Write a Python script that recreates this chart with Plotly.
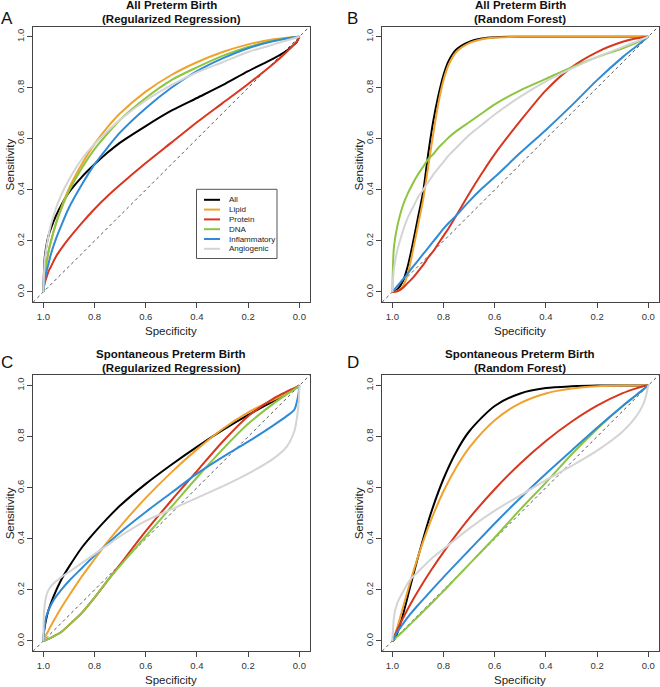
import plotly.graph_objects as go

W, H = 660, 687
FONT = "Liberation Sans, Arial, sans-serif"

SERIES = ["All", "Lipid", "Protein", "DNA", "Inflammatory", "Angiogenic"]
COLORS = ["#000000", "#F0A22E", "#D7361F", "#8CC540", "#2F8BD6", "#D4D4D4"]

TICKS = [0.0, 0.2, 0.4, 0.6, 0.8, 1.0]
TICK_TEXT = ["0.0", "0.2", "0.4", "0.6", "0.8", "1.0"]

# A - all preterm birth, regularized regression
SPEC_A = [1.0, 0.995, 0.99, 0.98, 0.97, 0.95, 0.93, 0.90, 0.85, 0.80, 0.75,
          0.70, 0.60, 0.50, 0.40, 0.30, 0.20, 0.10, 0.05, 0.02, 0.01, 0.0]
A_ALL = [0, 0.13, 0.17, 0.22, 0.25, 0.30, 0.34, 0.39, 0.45, 0.50, 0.545,
         0.585, 0.65, 0.71, 0.76, 0.81, 0.865, 0.915, 0.945, 0.97, 0.98, 1.0]
A_LIPID = [0, 0.06, 0.10, 0.155, 0.20, 0.27, 0.33, 0.405, 0.50, 0.58, 0.645,
           0.70, 0.785, 0.85, 0.90, 0.94, 0.97, 0.99, 0.996, 0.999, 1.0, 1.0]
A_PROTEIN = [0, 0.035, 0.05, 0.08, 0.10, 0.14, 0.17, 0.21, 0.27, 0.325, 0.375,
             0.42, 0.505, 0.585, 0.665, 0.74, 0.815, 0.895, 0.94, 0.97, 0.98, 1.0]
A_DNA = [0, 0.065, 0.10, 0.16, 0.20, 0.27, 0.325, 0.395, 0.485, 0.56, 0.62,
         0.675, 0.76, 0.83, 0.88, 0.925, 0.96, 0.985, 0.994, 0.998, 0.999, 1.0]
A_INFL = [0, 0.04, 0.07, 0.11, 0.15, 0.21, 0.26, 0.33, 0.42, 0.50, 0.565,
          0.625, 0.72, 0.80, 0.865, 0.915, 0.955, 0.983, 0.993, 0.998, 0.999, 1.0]
A_ANGIO = [0, 0.12, 0.16, 0.22, 0.265, 0.33, 0.38, 0.44, 0.52, 0.58, 0.63,
           0.675, 0.75, 0.81, 0.86, 0.90, 0.94, 0.97, 0.985, 0.994, 0.997, 1.0]

# B - all preterm birth, random forest
SPEC_B = [1.0, 0.995, 0.99, 0.98, 0.96, 0.94, 0.92, 0.90, 0.88, 0.86, 0.84, 0.82,
          0.80, 0.78, 0.75, 0.70, 0.65, 0.60, 0.50, 0.40, 0.30, 0.20, 0.10, 0.05, 0.0]
B_ALL = [0, 0.001, 0.003, 0.01, 0.04, 0.10, 0.19, 0.29, 0.39, 0.54, 0.67, 0.77,
         0.85, 0.905, 0.95, 0.98, 0.993, 0.998, 1, 1, 1, 1, 1, 1, 1]
B_LIPID = [0, 0.0, 0.001, 0.004, 0.02, 0.07, 0.16, 0.26, 0.36, 0.49, 0.62, 0.74,
           0.83, 0.89, 0.94, 0.975, 0.99, 0.997, 1, 1, 1, 1, 1, 1, 1]
B_PROTEIN = [0, 0.0005, 0.001, 0.003, 0.015, 0.035, 0.055, 0.08, 0.105, 0.135, 0.16, 0.19,
             0.22, 0.25, 0.30, 0.385, 0.465, 0.54, 0.67, 0.79, 0.88, 0.94, 0.98, 0.993, 1]
B_DNA = [0, 0.16, 0.205, 0.26, 0.335, 0.385, 0.425, 0.46, 0.49, 0.52, 0.54, 0.565,
         0.585, 0.605, 0.63, 0.665, 0.70, 0.735, 0.79, 0.835, 0.88, 0.92, 0.955, 0.975, 1]
B_INFL = [0, 0.006, 0.012, 0.024, 0.048, 0.072, 0.098, 0.123, 0.148, 0.173, 0.198, 0.223,
          0.248, 0.27, 0.30, 0.355, 0.405, 0.45, 0.545, 0.635, 0.73, 0.83, 0.92, 0.96, 1]
B_ANGIO = [0, 0.08, 0.115, 0.165, 0.235, 0.29, 0.33, 0.37, 0.40, 0.43, 0.46, 0.485,
           0.51, 0.535, 0.565, 0.615, 0.655, 0.695, 0.765, 0.825, 0.875, 0.92, 0.96, 0.98, 1]

# C - spontaneous preterm birth, regularized regression
SPEC_C = [1.0, 0.997, 0.99, 0.98, 0.96, 0.93, 0.90, 0.85, 0.80, 0.75, 0.70,
          0.60, 0.50, 0.40, 0.30, 0.20, 0.10, 0.05, 0.02, 0.01, 0.003, 0.0]
C_ALL = [0, 0.04, 0.08, 0.12, 0.175, 0.24, 0.29, 0.365, 0.425, 0.48, 0.53,
         0.615, 0.69, 0.76, 0.825, 0.885, 0.94, 0.968, 0.986, 0.992, 0.997, 1]
C_LIPID = [0, 0.007, 0.022, 0.041, 0.078, 0.13, 0.177, 0.252, 0.32, 0.387, 0.448,
           0.56, 0.66, 0.75, 0.83, 0.895, 0.945, 0.97, 0.986, 0.993, 0.998, 1]
C_PROTEIN = [0, 0.001, 0.004, 0.008, 0.018, 0.035, 0.062, 0.11, 0.17, 0.235, 0.30,
             0.43, 0.55, 0.665, 0.78, 0.88, 0.95, 0.976, 0.99, 0.995, 0.999, 1]
C_DNA = [0, 0.001, 0.004, 0.008, 0.018, 0.035, 0.062, 0.11, 0.17, 0.235, 0.295,
         0.41, 0.525, 0.64, 0.75, 0.85, 0.93, 0.965, 0.985, 0.992, 0.998, 1]
C_INFL = [0, 0.04, 0.09, 0.12, 0.16, 0.20, 0.235, 0.285, 0.335, 0.38, 0.425,
          0.505, 0.58, 0.655, 0.72, 0.78, 0.845, 0.88, 0.905, 0.935, 0.97, 1]
C_ANGIO = [0, 0.12, 0.17, 0.20, 0.225, 0.25, 0.27, 0.305, 0.34, 0.375, 0.41,
           0.47, 0.515, 0.56, 0.605, 0.655, 0.715, 0.76, 0.82, 0.87, 0.93, 1]

# D - spontaneous preterm birth, random forest
SPEC_D = [1.0, 0.995, 0.99, 0.98, 0.96, 0.93, 0.90, 0.85, 0.80, 0.75, 0.70,
          0.60, 0.50, 0.40, 0.30, 0.20, 0.10, 0.05, 0.02, 0.01, 0.0]
D_ALL = [0, 0.003, 0.01, 0.033, 0.098, 0.213, 0.327, 0.498, 0.635, 0.741, 0.82,
         0.92, 0.969, 0.99, 0.997, 1, 1, 1, 1, 1, 1]
D_LIPID = [0, 0.009, 0.022, 0.055, 0.126, 0.231, 0.329, 0.47, 0.586, 0.68, 0.756,
           0.864, 0.931, 0.969, 0.988, 0.997, 1, 1, 1, 1, 1]
D_PROTEIN = [0, 0.012, 0.024, 0.046, 0.086, 0.143, 0.195, 0.275, 0.348, 0.416, 0.48,
             0.594, 0.695, 0.783, 0.858, 0.921, 0.97, 0.988, 0.997, 0.999, 1]
D_DNA = [0, 0.004, 0.009, 0.018, 0.036, 0.065, 0.095, 0.145, 0.195, 0.248, 0.30,
         0.405, 0.515, 0.62, 0.73, 0.83, 0.92, 0.96, 0.984, 0.992, 1]
D_INFL = [0, 0.009, 0.018, 0.035, 0.065, 0.105, 0.14, 0.195, 0.25, 0.303, 0.355,
          0.46, 0.56, 0.655, 0.745, 0.835, 0.92, 0.96, 0.984, 0.992, 1]
D_ANGIO = [0, 0.08, 0.115, 0.15, 0.19, 0.24, 0.27, 0.32, 0.36, 0.40, 0.44,
           0.51, 0.57, 0.63, 0.685, 0.745, 0.82, 0.875, 0.925, 0.955, 1]


def fx(x):
    return x / W


def fy(y):
    return 1 - y / H


# letter, title lines, data, axis suffix, column left/right (px), row top/bottom (px),
# letter position (px)
panels = [
    ("A", ["All Preterm Birth", "(Regularized Regression)"], SPEC_A,
     [A_ALL, A_LIPID, A_PROTEIN, A_DNA, A_INFL, A_ANGIO], "",
     (33.1, 309.6), (26.5, 302.2), (7, 19)),
    ("B", ["All Preterm Birth", "(Random Forest)"], SPEC_B,
     [B_ALL, B_LIPID, B_PROTEIN, B_DNA, B_INFL, B_ANGIO], "2",
     (382.1, 658.5), (26.5, 302.2), (353, 19)),
    ("C", ["Spontaneous Preterm Birth", "(Regularized Regression)"], SPEC_C,
     [C_ALL, C_LIPID, C_PROTEIN, C_DNA, C_INFL, C_ANGIO], "3",
     (33.1, 309.6), (375.3, 651.2), (7, 362.5)),
    ("D", ["Spontaneous Preterm Birth", "(Random Forest)"], SPEC_D,
     [D_ALL, D_LIPID, D_PROTEIN, D_DNA, D_INFL, D_ANGIO], "4",
     (382.1, 658.5), (375.3, 651.2), (353, 362.5)),
]

fig = go.Figure()
layout = dict(
    width=W, height=H, template="none",
    margin=dict(l=0, r=0, t=0, b=0),
    paper_bgcolor="white", plot_bgcolor="white",
    showlegend=False, font=dict(family=FONT, color="#222"),
)
shapes, annotations = [], []

axis_common = dict(
    tickvals=TICKS, ticktext=TICK_TEXT, ticks="outside", ticklen=5, tickwidth=1,
    tickcolor="#444", showline=True, linecolor="#444", linewidth=1, mirror=True,
    showgrid=False, zeroline=False, automargin=False,
    tickfont=dict(size=9.5, color="#333", family=FONT),
)

for letter, title, spec, curves, sfx, (x0, x1), (y0, y1), (lx, ly) in panels:
    xa, ya = "x" + sfx, "y" + sfx
    layout["xaxis" + sfx] = dict(axis_common, range=[1.04, -0.04],
                                 domain=[fx(x0), fx(x1)], anchor=ya)
    layout["yaxis" + sfx] = dict(axis_common, range=[-0.04, 1.04], tickangle=-90,
                                 ticklabelstandoff=-1,
                                 domain=[fy(y1), fy(y0)], anchor=xa)

    # chance diagonal
    shapes.append(dict(type="line", xref=xa + " domain", yref=ya + " domain",
                       x0=0, y0=0, x1=1, y1=1, layer="below",
                       line=dict(color="#555", width=1, dash="dot")))

    for name, color, sens in zip(SERIES, COLORS, curves):
        fig.add_trace(go.Scatter(
            x=spec, y=sens, mode="lines", name=name, xaxis=xa, yaxis=ya,
            line=dict(color=color, width=2, shape="spline", smoothing=0.8),
            hoverinfo="skip",
        ))

    cx = (x0 + x1) / 2
    # two-line bold title
    annotations.append(dict(text="<b>%s</b>" % title[0], x=fx(cx), y=fy(y0 - 21.5),
                            xref="paper", yref="paper", showarrow=False,
                            xanchor="center", yanchor="middle",
                            font=dict(size=11.5, color="#111")))
    annotations.append(dict(text="<b>%s</b>" % title[1], x=fx(cx), y=fy(y0 - 7.8),
                            xref="paper", yref="paper", showarrow=False,
                            xanchor="center", yanchor="middle",
                            font=dict(size=11.5, color="#111")))
    # panel letter
    annotations.append(dict(text=letter, x=fx(lx), y=fy(ly),
                            xref="paper", yref="paper", showarrow=False,
                            xanchor="center", yanchor="middle",
                            font=dict(size=17, color="#111")))
    # axis titles
    annotations.append(dict(text="Specificity", x=fx(cx), y=fy(y1 + 29),
                            xref="paper", yref="paper", showarrow=False,
                            xanchor="center", yanchor="middle",
                            font=dict(size=11.5, color="#222")))
    annotations.append(dict(text="Sensitivity", x=fx(x0 - 23), y=fy((y0 + y1) / 2),
                            xref="paper", yref="paper", showarrow=False, textangle=-90,
                            xanchor="center", yanchor="middle",
                            font=dict(size=11.5, color="#222")))

# legend box drawn inside panel A
shapes.append(dict(type="rect", xref="paper", yref="paper",
                   x0=fx(196.5), x1=fx(277), y0=fy(258.5), y1=fy(189.3),
                   line=dict(color="#555", width=1), fillcolor="white"))
for i, (name, color) in enumerate(zip(SERIES, COLORS)):
    yy = 199.8 + i * 9.8
    shapes.append(dict(type="line", xref="paper", yref="paper",
                       x0=fx(204), x1=fx(220), y0=fy(yy), y1=fy(yy),
                       line=dict(color=color, width=2)))
    annotations.append(dict(text=name, x=fx(226.5), y=fy(yy), xref="paper", yref="paper",
                            showarrow=False, xanchor="left", yanchor="middle",
                            font=dict(size=8, color="#222")))

layout["shapes"] = shapes
layout["annotations"] = annotations
fig.update_layout(**layout)

# page margin off so the figure sits at the window's top-left corner
fig.write_html("out.html", config={"displayModeBar": False},
               post_script="document.body.style.margin='0';")
